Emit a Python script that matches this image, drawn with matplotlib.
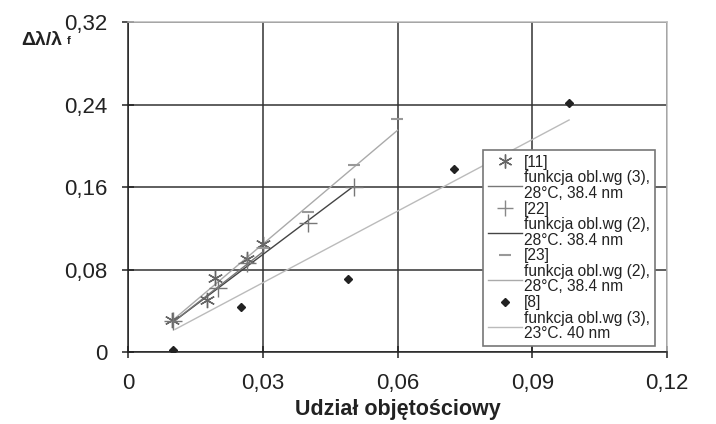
import matplotlib
matplotlib.use("Agg")
import matplotlib.pyplot as plt
from matplotlib.lines import Line2D

plt.rcParams['font.family'] = ['Liberation Sans', 'DejaVu Sans']

# data
x11 = [0.0098, 0.0175, 0.0194, 0.0264, 0.0301]
y11 = [0.031, 0.050, 0.0715, 0.090, 0.105]
x22 = [0.0100, 0.0201, 0.0264, 0.0401, 0.0502]
y22 = [0.030, 0.0617, 0.086, 0.125, 0.160]
x23 = [0.0300, 0.0401, 0.0502, 0.0598]
y23 = [0.101, 0.136, 0.181, 0.226]
x8 = [0.0101, 0.0251, 0.0490, 0.0726, 0.0982]
y8 = [0.002, 0.044, 0.0705, 0.177, 0.2417]

fx11 = [0.010, 0.030]; fy11 = [0.029, 0.097]
fx22 = [0.010, 0.050]; fy22 = [0.029, 0.160]
fx23 = [0.010, 0.060]; fy23 = [0.031, 0.215]
fx8 = [0.0105, 0.0982]; fy8 = [0.022, 0.225]

xticks = [0, 0.03, 0.06, 0.09, 0.12]
xticklabels = ['0', '0,03', '0,06', '0,09', '0,12']
yticks = [0, 0.08, 0.16, 0.24, 0.32]
yticklabels = ['0', '0,08', '0,16', '0,24', '0,32']

labels = ['[11]', 'funkcja obl.wg (3),\n28°C, 38.4 nm',
          '[22]', 'funkcja obl.wg (2),\n28°C. 38.4 nm',
          '[23]', 'funkcja obl.wg (2),\n28°C, 38.4 nm',
          '[8]', 'funkcja obl.wg (3),\n23°C. 40 nm']

fig = plt.figure(figsize=(7.16, 4.24), dpi=100)
ax = fig.add_axes([0.1788, 0.1698, 0.7528, 0.7783])

ax.set_xlim(0, 0.12)
ax.set_ylim(0, 0.32)
ax.set_xticks(xticks)
ax.set_xticklabels(xticklabels)
ax.set_yticks(yticks)
ax.set_yticklabels(yticklabels)
ax.grid(True, color='#333333', linewidth=1.1)
ax.set_axisbelow(True)
ax.tick_params(axis='both', labelsize=16, color='#222222', width=1.1,
               direction='inout', length=8, labelcolor='#222222')
ax.tick_params(axis='x', pad=11)
ax.tick_params(axis='y', pad=11)
for s in ['left', 'bottom']:
    ax.spines[s].set_color('#222222')
    ax.spines[s].set_linewidth(1.1)
for s in ['top', 'right']:
    ax.spines[s].set_color('#bbbbbb')
    ax.spines[s].set_linewidth(1.1)

ast = (6, 2, 0)
l_f8, = ax.plot(fx8, fy8, color='#bbbbbb', linewidth=1.0)
l_f23, = ax.plot(fx23, fy23, color='#aaaaaa', linewidth=1.0)
l_f22, = ax.plot(fx22, fy22, color='#444444', linewidth=1.0)
l_f11, = ax.plot(fx11, fy11, color='#777777', linewidth=1.0)
m11, = ax.plot(x11, y11, linestyle='none', marker=ast, markersize=11,
               color='#666666', markeredgewidth=1.0)
m22, = ax.plot(x22, y22, linestyle='none', marker='+', markersize=13,
               color='#777777', markeredgewidth=1.0)
m23, = ax.plot(x23, y23, linestyle='none', marker='_', markersize=9,
               color='#999999', markeredgewidth=1.5)
m8, = ax.plot(x8, y8, linestyle='none', marker='D', markersize=4.5,
              color='#222222')

h11 = Line2D([], [], linestyle='none', marker=ast, markersize=10, color='#666666', markeredgewidth=1.0)
h22 = Line2D([], [], linestyle='none', marker='+', markersize=11, color='#888888', markeredgewidth=1.0)
h23 = Line2D([], [], linestyle='none', marker='_', markersize=9, color='#999999', markeredgewidth=1.5)
h8 = Line2D([], [], linestyle='none', marker='D', markersize=4.5, color='#222222')
handles = [h11, l_f11, h22, l_f22, h23, l_f23, h8, l_f8]

leg = ax.legend(handles, labels, loc='upper left', bbox_to_anchor=(0.6586, 0.612),
                fontsize=11.2, frameon=True, fancybox=False, edgecolor='#777777',
                framealpha=1, borderpad=0.3, labelspacing=0.05, handlelength=2.2,
                handletextpad=0.15, borderaxespad=0)
leg.get_frame().set_linewidth(1.2)
for t in leg.get_texts():
    t.set_linespacing(1.02)
    t.set_color('#222222')

ax.set_xlabel('Udział objętościowy', fontsize=15.5, fontweight='bold', color='#222222', labelpad=4)
fig.text(0.030, 0.905, 'Δλ/λ', fontsize=14, fontweight='bold', color='#222222',
         ha='left', va='center')
fig.text(0.0935, 0.903, 'f', fontsize=8, fontweight='bold', color='#222222',
         ha='left', va='center')

fig.savefig('out.png', dpi=100)
